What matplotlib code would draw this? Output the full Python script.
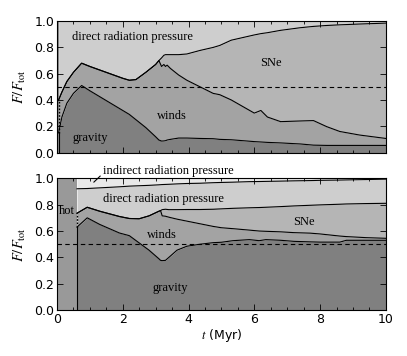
import numpy as np
import matplotlib
matplotlib.use("Agg")
import matplotlib.pyplot as plt
from matplotlib.ticker import MultipleLocator

plt.rcParams['mathtext.fontset'] = 'stix'
plt.rcParams['font.family'] = ['DejaVu Sans']

# ---------------- data: top panel (cumulative boundaries of F/F_tot) ----------------
t_hot_top = 0.05
t_top = [0.05, 0.15, 0.3, 0.5, 0.75, 1.0, 1.5, 2.0, 2.2, 2.4, 2.7, 3.0, 3.1, 3.18, 3.25,
         3.3, 3.35, 3.45, 3.7, 3.95, 4.35, 4.75, 4.95, 5.3, 5.65, 6.0, 6.2, 6.4, 6.8,
         7.4, 7.8, 8.2, 8.6, 9.2, 10.0]
grav_top = [0.15, 0.27, 0.375, 0.45, 0.51, 0.47, 0.395, 0.32, 0.29, 0.25, 0.19, 0.12, 0.095,
            0.087, 0.088, 0.09, 0.095, 0.10, 0.11, 0.11, 0.107, 0.105, 0.10, 0.097, 0.09,
            0.083, 0.08, 0.077, 0.073, 0.065, 0.056, 0.054, 0.054, 0.054, 0.054]
winds_top = [0.40, 0.46, 0.54, 0.61, 0.68, 0.655, 0.61, 0.565, 0.55, 0.555, 0.61, 0.67, 0.70,
             0.655, 0.67, 0.655, 0.665, 0.64, 0.59, 0.55, 0.50, 0.45, 0.44, 0.40, 0.35,
             0.30, 0.32, 0.27, 0.235, 0.24, 0.243, 0.197, 0.16, 0.133, 0.107]
sne_top = [0.40, 0.46, 0.54, 0.61, 0.68, 0.655, 0.61, 0.565, 0.55, 0.555, 0.61, 0.67, 0.70,
           0.72, 0.74, 0.745, 0.745, 0.745, 0.745, 0.75, 0.777, 0.80, 0.815, 0.855, 0.875,
           0.895, 0.905, 0.912, 0.93, 0.95, 0.96, 0.967, 0.972, 0.978, 0.985]
direct_top = [1.0] * len(t_top)

# ---------------- data: bottom panel ----------------
t_hot_bot = 0.61
t_bot = [0.61, 0.92, 1.3, 1.9, 2.2, 2.5, 2.8, 3.1, 3.15, 3.2, 3.3, 3.4, 3.65, 3.95, 4.35,
         4.75, 5.0, 5.35, 5.85, 6.15, 6.35, 6.8, 7.2, 7.7, 8.0, 8.6, 8.8, 9.4, 10.0]
grav_bot = [0.63, 0.70, 0.65, 0.585, 0.565, 0.51, 0.455, 0.39, 0.378, 0.376, 0.378, 0.40,
            0.455, 0.485, 0.50, 0.512, 0.515, 0.527, 0.535, 0.527, 0.535, 0.53, 0.522,
            0.518, 0.516, 0.516, 0.53, 0.53, 0.53]
winds_bot = [0.735, 0.78, 0.75, 0.71, 0.695, 0.693, 0.715, 0.75, 0.755, 0.715, 0.712, 0.705,
             0.69, 0.675, 0.655, 0.635, 0.625, 0.618, 0.607, 0.60, 0.598, 0.594, 0.588,
             0.584, 0.578, 0.562, 0.558, 0.55, 0.545]
sne_bot = [0.735, 0.78, 0.75, 0.71, 0.695, 0.693, 0.715, 0.75, 0.755, 0.762, 0.765, 0.762,
           0.762, 0.763, 0.763, 0.765, 0.768, 0.772, 0.776, 0.778, 0.78, 0.785, 0.79,
           0.795, 0.798, 0.803, 0.805, 0.808, 0.81]
direct_bot = [0.92, 0.922, 0.927, 0.935, 0.94, 0.943, 0.946, 0.95, 0.951, 0.952, 0.953,
              0.954, 0.957, 0.96, 0.962, 0.966, 0.968, 0.97, 0.974, 0.975, 0.976, 0.978,
              0.98, 0.982, 0.984, 0.986, 0.987, 0.99, 0.993]
indirect_bot = [1.0] * len(t_bot)

x_ticks = [0, 2, 4, 6, 8, 10]
y_ticks = [0.0, 0.2, 0.4, 0.6, 0.8, 1.0]

c_grav = '#808080'
c_hot = '#999999'
c_winds = '#a3a3a3'
c_sne = '#b5b5b5'
c_direct = '#cecece'
c_indirect = '#e8e8e8'

fig = plt.figure(figsize=(4.07, 3.56), dpi=100)
ax1 = fig.add_axes([0.140, 0.5716, 0.808, 0.369])
ax2 = fig.add_axes([0.140, 0.1284, 0.808, 0.371])

serif = dict(family='Liberation Serif', fontsize=9)
lw = 0.8


def panel(ax, t, bounds, colors, t_hot, hot_color):
    ax.axvspan(0, t_hot, color=hot_color, lw=0, zorder=0.5)
    lower = np.zeros(len(t))
    for b, c in zip(bounds, colors):
        b = np.asarray(b)
        ax.fill_between(t, lower, b, color=c, lw=0, zorder=1)
        lower = b
    for b in bounds[:-1]:
        ax.plot(t, b, color='k', lw=lw, zorder=2)
    ax.plot([t_hot, t_hot], [0, bounds[0][0]], color='k', lw=lw, zorder=2)
    ax.plot([t_hot, t_hot], [bounds[0][0], bounds[1][0]], color='k', lw=1.0,
            ls=(0, (1.2, 1.2)), zorder=2)
    ax.axhline(0.5, color='k', lw=lw, ls=(0, (4, 3)), zorder=3)
    ax.set_xlim(0, 10)
    ax.set_ylim(0, 1)
    ax.set_xticks(x_ticks)
    ax.set_yticks(y_ticks)
    ax.xaxis.set_minor_locator(MultipleLocator(0.5))
    ax.tick_params(which='both', direction='in', top=True, right=True, labelsize=9,
                   pad=2)
    ax.tick_params(which='major', length=4, width=0.6)
    ax.tick_params(which='minor', length=2, width=0.6)
    for s in ax.spines.values():
        s.set_linewidth(0.8)
    ax.set_ylabel(r'$F/F_{\rm tot}$', fontsize=10.5)
    ax.yaxis.set_label_coords(-0.088, 0.5)


panel(ax1, t_top, [grav_top, winds_top, sne_top, direct_top],
      [c_grav, c_winds, c_sne, c_direct], t_hot_top, '#8a8a8a')
panel(ax2, t_bot, [grav_bot, winds_bot, sne_bot, direct_bot, indirect_bot],
      [c_grav, c_winds, c_sne, c_direct, c_indirect], t_hot_bot, c_hot)

ax1.tick_params(labelbottom=False)
ax2.set_xlabel(r'$t$ (Myr)', fontsize=9, labelpad=1)

# labels top panel
ax1.text(2.3, 0.88, 'direct radiation pressure', ha='center', va='center', **serif)
ax1.text(6.5, 0.68, 'SNe', ha='center', va='center', **serif)
ax1.text(3.5, 0.28, 'winds', ha='center', va='center', **serif)
ax1.text(1.0, 0.11, 'gravity', ha='center', va='center', **serif)

# labels bottom panel
ax2.text(1.4, 0.845, 'direct radiation pressure', ha='left', va='center', **serif)
ax2.text(0.3, 0.75, 'hot', ha='center', va='center', **serif)
ax2.text(3.2, 0.57, 'winds', ha='center', va='center', **serif)
ax2.text(3.45, 0.17, 'gravity', ha='center', va='center', **serif)
ax2.text(7.5, 0.67, 'SNe', ha='center', va='center', **serif)
ax2.annotate('indirect radiation pressure', xy=(1.12, 0.97), xytext=(1.4, 1.055),
             ha='left', va='center', annotation_clip=False,
             arrowprops=dict(arrowstyle='-', color='k', lw=0.8, shrinkA=0, shrinkB=0,
                             relpos=(0, 0.3)),
             **serif)

fig.savefig('out.png', dpi=100)
